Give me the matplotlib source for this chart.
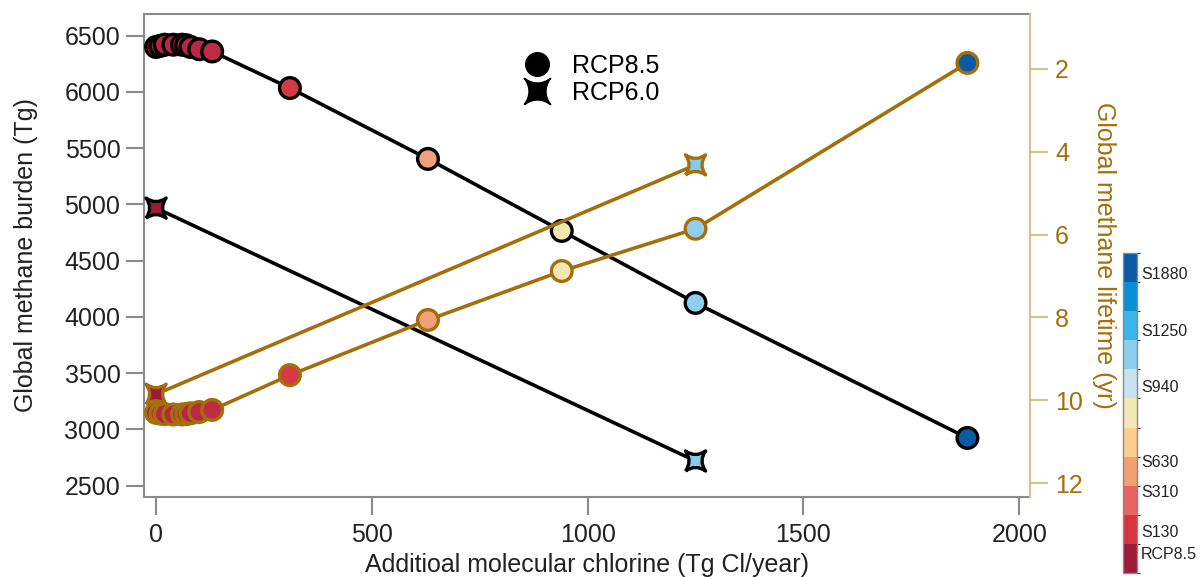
import matplotlib
matplotlib.use("Agg")
import matplotlib.pyplot as plt
import numpy as np
from matplotlib.path import Path
from matplotlib.lines import Line2D
from matplotlib.colors import ListedColormap, BoundaryNorm
import matplotlib.colorbar as mcolorbar

plt.rcParams['font.family'] = ['Liberation Sans', 'DejaVu Sans']

# ---- data ----
chlorine_85 = [0, 10, 20, 40, 60, 70, 80, 100, 130, 310, 630, 940, 1250, 1880]
burden_85 = [6400, 6410, 6420, 6420, 6420, 6415, 6400, 6380, 6360, 6035, 5405, 4765, 4125, 2925]
lifetime_85 = [10.30, 10.32, 10.33, 10.34, 10.34, 10.33, 10.31, 10.28, 10.23, 9.39, 8.06, 6.88, 5.86, 1.86]
colors_85 = ['#9e1a3a', '#b82646', '#b82646', '#b82646', '#b82646', '#b82646', '#b82646',
             '#bb2846', '#bf2a46', '#d43a46', '#f2a07a', '#f4e6b2', '#8fcfee', '#0b5aa8']

chlorine_60 = [0, 1250]
burden_60 = [4968, 2720]
lifetime_60 = [9.85, 4.32]
colors_60 = ['#9e1a3a', '#84cbec']

cbar_colors = ['#9e1a3a', '#d6343f', '#ea6360', '#f2a070', '#f8cf90', '#f2e8b8',
               '#c8e3ee', '#8ccfec', '#3ab5e8', '#0a8fd4', '#0b5aa5']
cbar_labels = ['RCP8.5', 'S130', 'S310', 'S630', 'S940', 'S1250', 'S1880']
cbar_label_pos = [0.0625, 0.13, 0.255, 0.349, 0.583, 0.76, 0.9375]

x_ticks = [0, 500, 1000, 1500, 2000]
left_ticks = [2500, 3000, 3500, 4000, 4500, 5000, 5500, 6000, 6500]
right_ticks = [2, 4, 6, 8, 10, 12]

GOLD = '#a46f0a'
TAN = '#d9c08c'
GRAY = '#8a8a8a'
TXT = '#222222'

# concave four-pointed star marker
c = 0.28
sv = [(-1, -1), (0, -c), (1, -1), (c, 0), (1, 1), (0, c), (-1, 1), (-c, 0), (-1, -1)]
sc = [Path.MOVETO, Path.CURVE3, Path.CURVE3, Path.CURVE3, Path.CURVE3,
      Path.CURVE3, Path.CURVE3, Path.CURVE3, Path.CURVE3]
STAR = Path(sv, sc)

fig = plt.figure(figsize=(12.04, 5.77), dpi=100)
ax = fig.add_axes([144/1204, 80/577, 886/1204, 483/577])
ax2 = ax.twinx()

ax.set_xlim(-28, 2025)
ax.set_ylim(2400, 6693)
ax2.set_ylim(12.33, 0.68)

# black burden lines
ax.plot(chlorine_85, burden_85, color='black', lw=2.6, zorder=2)
ax.scatter(chlorine_85, burden_85, s=222, c=colors_85, edgecolors='black', linewidths=2.4, zorder=3)
ax.plot(chlorine_60, burden_60, color='black', lw=2.6, zorder=2)
ax.scatter(chlorine_60, burden_60, s=210, c=colors_60, marker=STAR, edgecolors='black', linewidths=2.4, zorder=3)

# gold lifetime lines
ax2.plot(chlorine_85, lifetime_85, color=GOLD, lw=2.6, zorder=2)
ax2.scatter(chlorine_85, lifetime_85, s=222, c=colors_85, edgecolors=GOLD, linewidths=2.4, zorder=3)
ax2.plot(chlorine_60, lifetime_60, color=GOLD, lw=2.6, zorder=2)
ax2.scatter(chlorine_60, lifetime_60, s=210, c=colors_60, marker=STAR, edgecolors=GOLD, linewidths=2.4, zorder=3)

# axes styling
for sp in ['left', 'bottom', 'top']:
    ax.spines[sp].set_color(GRAY)
    ax.spines[sp].set_linewidth(1.5)
ax.spines['right'].set_visible(False)
for sp in ['left', 'bottom', 'top']:
    ax2.spines[sp].set_visible(False)
ax2.spines['right'].set_color(TAN)
ax2.spines['right'].set_linewidth(1.5)

ax.set_xticks(x_ticks)
ax.set_yticks(left_ticks)
ax2.set_yticks(right_ticks)
ax.tick_params(axis='both', direction='out', length=13, width=1.5, color=GRAY,
               labelcolor=TXT, labelsize=18, pad=4)
ax.tick_params(axis='x', pad=6)
ax2.tick_params(axis='y', direction='out', length=13, width=1.5, color=TAN,
                labelcolor=GOLD, labelsize=18, pad=5)

ax.set_xlabel('Additioal molecular chlorine (Tg Cl/year)', fontsize=18, color=TXT, labelpad=4)
ax.set_ylabel('Global methane burden (Tg)', fontsize=18, color=TXT, labelpad=19)
ax2.set_ylabel('Global methane lifetime (yr)', fontsize=18, color=GOLD, rotation=270, labelpad=24)

# legend
handles = [Line2D([], [], ls='none', marker='o', markersize=17, markerfacecolor='black', markeredgecolor='black'),
           Line2D([], [], ls='none', marker=STAR, markersize=19, markerfacecolor='black', markeredgecolor='black')]
fig.legend(handles, ['RCP8.5', 'RCP6.0'], loc='upper left', bbox_to_anchor=(522/1204, 1-54/577),
           frameon=False, fontsize=18, borderpad=0, borderaxespad=0, handlelength=1.2,
           handletextpad=0.8, labelspacing=0.1)

# discrete colorbar
cax = fig.add_axes([1123/1204, 4/577, 14/1204, 320/577])
cmap = ListedColormap(cbar_colors)
norm = BoundaryNorm(np.linspace(0, 1, len(cbar_colors)+1), cmap.N)
cb = mcolorbar.ColorbarBase(cax, cmap=cmap, norm=norm, orientation='vertical')
cb.set_ticks(cbar_label_pos)
cb.set_ticklabels(cbar_labels)
cax.tick_params(length=0, labelsize=11.5, labelcolor=TXT, pad=3)
cb.outline.set_edgecolor(GRAY)
cb.outline.set_linewidth(1.0)

fig.savefig('out.png', dpi=100)
